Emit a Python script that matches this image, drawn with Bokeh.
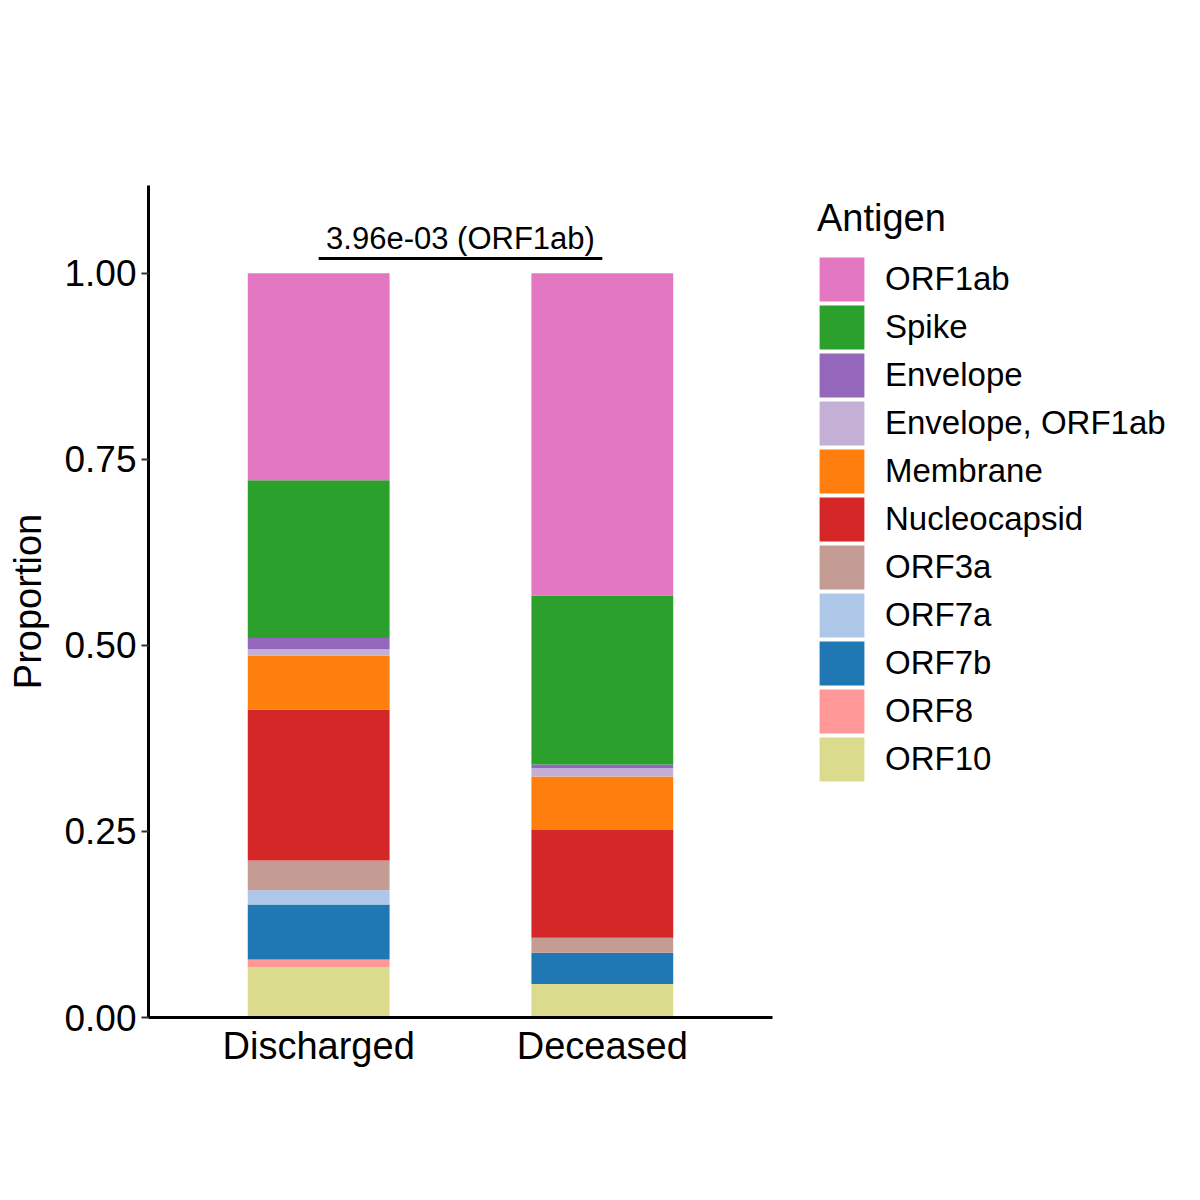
from bokeh.plotting import figure
from bokeh.models import (ColumnDataSource, FactorRange, Range1d, FixedTicker,
                          NumeralTickFormatter, Legend, LegendItem)
from bokeh.core.properties import value
from bokeh.embed import file_html
from bokeh.resources import INLINE

# data (stacked bottom -> top)
groups = ["Discharged", "Deceased"]
antigens = ["ORF10", "ORF8", "ORF7b", "ORF7a", "ORF3a", "Nucleocapsid",
            "Membrane", "Envelope, ORF1ab", "Envelope", "Spike", "ORF1ab"]
discharged = [0.068, 0.010, 0.074, 0.019, 0.040, 0.203, 0.072, 0.009, 0.015, 0.212, 0.278]
deceased = [0.045, 0.000, 0.042, 0.000, 0.020, 0.145, 0.072, 0.011, 0.005, 0.227, 0.433]
colors = ["#DBDB8D", "#FF9896", "#1F77B4", "#AEC7E8", "#C49C94", "#D62728",
          "#FF7F0E", "#C5B0D5", "#9467BD", "#2CA02C", "#E377C2"]
y_ticks = [0, 0.25, 0.5, 0.75, 1.0]

# significance bracket
p_label = ["3.96e-03 (ORF1ab)"]
bracket_y = [1.02]
label_y = [1.023]

FONT = "Liberation Sans"
NAN = float("nan")

data = {"group": groups}
for i, a in enumerate(antigens):
    data[a] = [discharged[i], deceased[i]]
source = ColumnDataSource(data)

p = figure(
    x_range=FactorRange(factors=groups, range_padding=0.1),
    y_range=Range1d(0, 1.118),
    frame_width=624, frame_height=832,
    min_border_left=148, min_border_right=0,
    min_border_top=185, min_border_bottom=167,
    output_backend="svg", toolbar_location=None,
)

p.vbar_stack(antigens, x="group", width=0.5, color=colors,
             line_color=None, source=source)

# bracket + p-value text
p.segment(x0=["Discharged"], x1=["Deceased"], y0=bracket_y, y1=bracket_y,
          line_color="black", line_width=3)
p.text(x=[1.0], y=label_y, text=p_label, text_align="center",
       text_baseline="bottom", text_font=value(FONT),
       text_font_size="31px", text_color="black")

# axes
p.xgrid.visible = False
p.ygrid.visible = False
p.outline_line_color = None

p.yaxis.ticker = FixedTicker(ticks=y_ticks)
p.yaxis.formatter = NumeralTickFormatter(format="0.00")
p.yaxis.axis_label = "Proportion"
p.yaxis.axis_label_text_font = FONT
p.yaxis.axis_label_text_font_size = "38px"
p.yaxis.axis_label_text_font_style = "normal"
p.yaxis.axis_label_text_color = "black"
p.yaxis.axis_label_standoff = 12
p.yaxis.major_tick_out = 7
p.yaxis.major_tick_in = 0
p.yaxis.major_tick_line_width = 2
p.yaxis.major_tick_line_color = "#333333"
p.yaxis.minor_tick_line_color = None
p.yaxis.major_label_standoff = 5

p.xaxis.major_tick_line_color = None
p.xaxis.major_label_standoff = 1

for ax in (p.xaxis, p.yaxis):
    ax.axis_line_width = 3
    ax.axis_line_color = "black"
    ax.major_label_text_font = FONT
    ax.major_label_text_font_size = "37px"
    ax.major_label_text_color = "black"
p.xaxis.major_label_text_font_size = "38px"

# legend keys: proxy bars (no visible data) with a same-colour outline so the
# key fills more of its slot (bokeh insets area keys by 10%)
items = []
for a, c in zip(antigens, colors):
    proxy = p.vbar(x=[NAN], top=[NAN], width=0.5, fill_color=c, line_color=c,
                   line_width=5.6, line_join="miter")
    items.append(LegendItem(label=a, renderers=[proxy]))
items = items[::-1]

legend = Legend(items=items, title="Antigen", location=(45, 234))
legend.title_text_font = FONT
legend.title_text_font_size = "38px"
legend.title_text_font_style = "normal"
legend.title_text_color = "black"
legend.title_standoff = 15
legend.label_text_font = FONT
legend.label_text_font_size = "33px"
legend.label_text_color = "black"
legend.glyph_width = 49
legend.glyph_height = 48
legend.spacing = 0
legend.label_standoff = 19
legend.padding = 0
legend.margin = 0
legend.border_line_color = None
legend.background_fill_alpha = 0
p.add_layout(legend, "right")

open("out.html", "w").write(file_html(p, INLINE))
